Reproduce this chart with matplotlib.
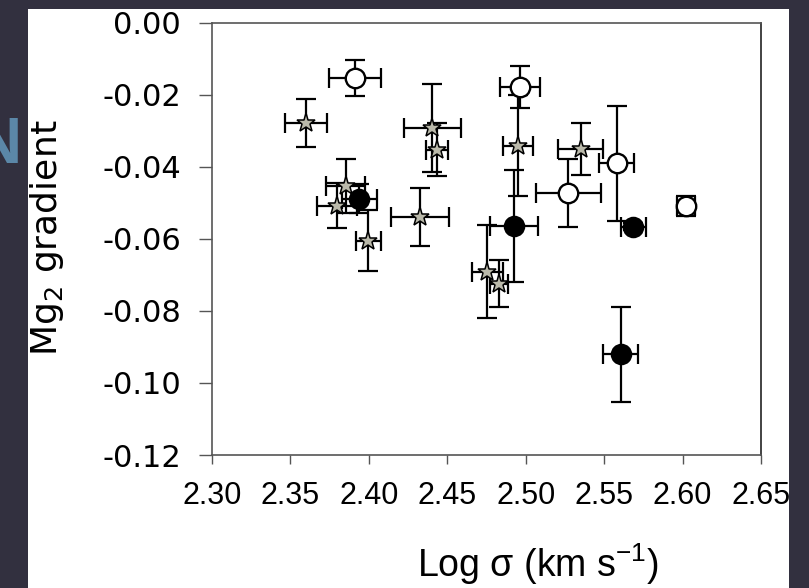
import numpy as np
import matplotlib
matplotlib.use('agg')
import matplotlib.pyplot as plt
from matplotlib.patches import Rectangle

plt.rcParams['mathtext.fontset'] = 'custom'
plt.rcParams['mathtext.rm'] = 'DejaVu Sans'
plt.rcParams['mathtext.default'] = 'regular'

# open circles
open_x = [2.391, 2.4964, 2.5272, 2.558, 2.602]
open_y = [-0.0153, -0.0178, -0.0472, -0.0390, -0.0508]
open_xerr = [0.0165, 0.0125, 0.0206, 0.0110, 0.0057]
open_yerr = [0.0050, 0.0059, 0.0094, 0.0160, 0.0028]

# filled circles
fill_x = [2.3939, 2.4925, 2.5686, 2.5605]
fill_y = [-0.0489, -0.0564, -0.0566, -0.0921]
fill_xerr = [0.0110, 0.0155, 0.0078, 0.0114]
fill_yerr = [0.0040, 0.0155, 0.0010, 0.0132]

# stars
star_x = [2.3597, 2.4405, 2.4436, 2.3852, 2.3799, 2.3997, 2.4326, 2.4949, 2.4755, 2.4830, 2.5350]
star_y = [-0.0279, -0.0293, -0.0352, -0.0453, -0.0508, -0.0605, -0.0539, -0.0341, -0.0691, -0.0724, -0.0351]
star_xerr = [0.0134, 0.0184, 0.0069, 0.0124, 0.0128, 0.0081, 0.0187, 0.0096, 0.0100, 0.0060, 0.0143]
star_yerr = [0.0067, 0.0122, 0.0074, 0.0076, 0.0063, 0.0084, 0.0080, 0.0139, 0.0130, 0.0065, 0.0072]

x_ticks = [2.30, 2.35, 2.40, 2.45, 2.50, 2.55, 2.60, 2.65]
x_tick_labels = ['2.30', '2.35', '2.40', '2.45', '2.50', '2.55', '2.60', '2.65']
y_ticks = [0.00, -0.02, -0.04, -0.06, -0.08, -0.10, -0.12]
y_tick_labels = ['0.00', '-0.02', '-0.04', '-0.06', '-0.08', '-0.10', '-0.12']

W, H = 809, 588
fig = plt.figure(figsize=(W / 100, H / 100), dpi=100)
fig.patch.set_facecolor('#32303f')

# bit of slide title peeking out behind the white panel
fig.text(22 / W, 1 - 146 / H, 'N', ha='right', va='center', fontsize=46,
         fontweight='bold', color='#5b87a8', family='Liberation Sans', zorder=0)
fig.add_artist(Rectangle((28 / W, 0), 761 / W, 579 / H, transform=fig.transFigure,
                         facecolor='white', edgecolor='none', zorder=1))

ax = fig.add_axes([212 / W, 1 - 455 / H, 549 / W, (455 - 22.7) / H], zorder=2)
ax.set_facecolor('white')
ax.set_xlim(2.30, 2.65)
ax.set_ylim(-0.12, 0.0)

eb = dict(fmt='none', ecolor='black', elinewidth=1.6, capsize=7, capthick=1.6, zorder=3)
ax.errorbar(star_x, star_y, xerr=star_xerr, yerr=star_yerr, **eb)
ax.errorbar(fill_x, fill_y, xerr=fill_xerr, yerr=fill_yerr, **eb)
ax.errorbar(open_x, open_y, xerr=open_xerr, yerr=open_yerr, **eb)

ax.plot(star_x, star_y, ls='none', marker='*', ms=14, mfc='#bab9aa', mec='black', mew=1.1, zorder=4)
ax.plot(fill_x, fill_y, ls='none', marker='o', ms=14, mfc='black', mec='black', mew=1.5, zorder=5)
ax.plot(open_x, open_y, ls='none', marker='o', ms=14, mfc='white', mec='black', mew=1.7, zorder=6)

ax.set_xticks(x_ticks)
ax.set_xticklabels(x_tick_labels, family='Liberation Sans', fontsize=22)
ax.set_yticks(y_ticks)
ax.set_yticklabels(y_tick_labels, family='DejaVu Sans', fontsize=22)
ax.tick_params(axis='x', direction='out', length=6.5, width=1, color='#555555', pad=12)
ax.tick_params(axis='y', direction='out', length=9.4, width=1, color='#555555', pad=13)
for s in ax.spines.values():
    s.set_color('#555555')
    s.set_linewidth(1.2)
ax.spines['right'].set_color('#222222')

fig.text(47 / W, 1 - 238 / H, 'Mg$_2$ gradient', rotation=90, ha='center', va='center',
         fontsize=26, family='DejaVu Sans', color='black', zorder=3)
fig.text(538 / W, 1 - 564 / H, 'Log \u03c3 (km s$^{-1}$)', ha='center', va='center',
         fontsize=27, family='Liberation Sans', color='black', zorder=3)

fig.savefig('out.png', dpi=100, facecolor=fig.get_facecolor())
